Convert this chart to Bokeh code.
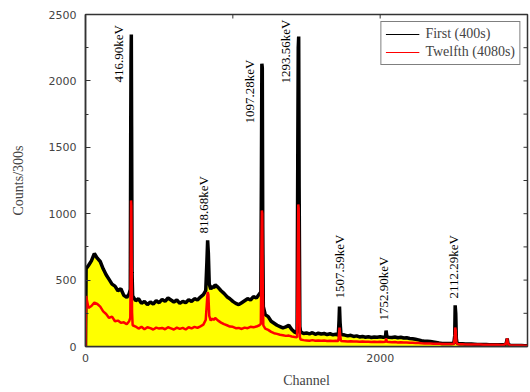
import math
from bokeh.plotting import figure
from bokeh.models import SingleIntervalTicker, FixedTicker, Legend, LegendItem
from bokeh.core.properties import value
from bokeh.embed import file_html
from bokeh.resources import INLINE

# ---- data ----
chan = [0, 4, 20, 40, 60, 80, 100, 120, 140, 160,
        180, 200, 220, 240, 260, 280, 296, 304, 307, 309,
        311, 313, 316, 320, 340, 360, 380, 400, 420, 440,
        460, 480, 500, 520, 540, 560, 580, 600, 620, 640,
        660, 680, 700, 720, 740, 760, 780, 800, 816, 824,
        829, 834, 840, 850, 860, 870, 880, 900, 920, 940,
        960, 980, 1000, 1020, 1040, 1060, 1080, 1100, 1120, 1140,
        1160, 1180, 1190, 1194, 1197, 1200, 1203, 1207, 1220, 1240,
        1260, 1280, 1300, 1320, 1340, 1360, 1380, 1400, 1420, 1436,
        1441, 1444, 1447, 1450, 1455, 1460, 1480, 1500, 1520, 1540,
        1560, 1580, 1600, 1620, 1640, 1660, 1680, 1700, 1716, 1721,
        1724, 1728, 1734, 1760, 1780, 1800, 1820, 1840, 1860, 1880,
        1900, 1920, 1940, 1960, 1980, 2000, 2020, 2036, 2040, 2046,
        2060, 2080, 2100, 2120, 2140, 2160, 2180, 2200, 2220, 2240,
        2260, 2280, 2300, 2320, 2340, 2360, 2380, 2400, 2420, 2440,
        2460, 2480, 2500, 2506, 2509, 2513, 2517, 2522, 2540, 2560,
        2580, 2600, 2620, 2640, 2660, 2680, 2700, 2720, 2740, 2760,
        2780, 2800, 2820, 2840, 2855, 2862, 2868, 2880, 2900, 2920,
        2940, 2960, 2980, 3000]

first = [0, 585, 610, 645, 700, 665, 640, 585, 540, 505,
         470, 455, 420, 435, 385, 370, 395, 430, 1650, 2176,
         2350, 1657, 560, 380, 345, 360, 325, 340, 315, 335,
         320, 345, 330, 355, 340, 365, 350, 335, 350, 325,
         340, 330, 352, 340, 360, 350, 372, 390, 420, 640,
         800, 700, 470, 430, 455, 440, 465, 445, 420, 400,
         375, 360, 340, 325, 315, 330, 345, 360, 350, 375,
         365, 395, 410, 1300, 2130, 2100, 900, 300, 240, 225,
         190, 175, 160, 150, 140, 148, 160, 128, 108, 100,
         1500, 2250, 2334, 1200, 150, 110, 98, 102, 95, 104,
         92, 100, 94, 98, 90, 96, 88, 92, 86, 200,
         300, 180, 90, 86, 80, 84, 76, 80, 72, 76,
         70, 74, 68, 72, 70, 74, 70, 72, 120, 72,
         70, 68, 72, 66, 70, 64, 66, 60, 58, 54,
         50, 44, 40, 40, 38, 34, 30, 26, 23, 22,
         22, 22, 24, 80, 310, 250, 60, 24, 20, 20,
         19, 18, 18, 17, 16, 16, 15, 15, 14, 14,
         14, 13, 13, 13, 20, 60, 20, 10, 8, 8,
         7, 7, 6, 6]

twelfth = [0, 380, 290, 305, 330, 320, 300, 265, 245, 215,
           225, 190, 195, 178, 182, 168, 190, 215, 600, 1100,
           1060, 700, 260, 160, 150, 135, 148, 130, 145, 138,
           128, 142, 135, 140, 130, 145, 137, 128, 142, 133,
           140, 128, 145, 137, 148, 140, 152, 165, 200, 330,
           410, 390, 230, 195, 210, 200, 215, 195, 180, 168,
           160, 150, 148, 138, 140, 132, 142, 138, 148, 145,
           150, 160, 170, 700, 1024, 1000, 480, 160, 135, 125,
           110, 100, 95, 88, 85, 80, 82, 75, 72, 70,
           700, 1070, 1040, 600, 70, 52, 48, 46, 44, 48,
           43, 46, 44, 45, 42, 44, 41, 43, 42, 100,
           143, 90, 42, 40, 38, 40, 37, 38, 36, 37,
           35, 36, 34, 35, 34, 36, 34, 35, 60, 35,
           33, 32, 33, 31, 32, 30, 30, 28, 28, 27,
           26, 24, 23, 22, 22, 21, 20, 20, 19, 19,
           18, 18, 19, 60, 143, 120, 40, 18, 17, 17,
           16, 16, 16, 15, 15, 15, 14, 14, 14, 13,
           13, 13, 12, 13, 20, 60, 20, 10, 8, 8,
           7, 7, 6, 6]

assert len(chan) == len(first) == len(twelfth)

peak_labels = ["416.90keV", "818.68keV", "1097.28keV", "1293.56keV",
               "1507.59keV", "1752.90keV", "2112.29keV"]
peak_label_x = [224, 801, 1113, 1357, 1724, 2023, 2498]
peak_label_y = [1988, 851, 1680, 1980, 361, 196, 361]

x_ticks = [0, 1000, 2000, 3000]
x_tick_labels = {1000: "", 3000: ""}
top_ticks = [1000, 2000]
right_ticks = [250, 500, 750, 1000, 1250, 1500, 1750, 2000, 2250]
x_max = 3000
y_max = 2500

SERIF = "Liberation Serif"
SANS = "DejaVu Sans"
AX = "#333333"

p = figure(width=530, height=392, x_range=(0, x_max), y_range=(0, y_max),
           output_backend="svg", toolbar_location=None,
           min_border_left=85, min_border_right=3, min_border_top=14,
           min_border_bottom=46)
p.grid.visible = False
p.outline_line_color = AX
p.outline_line_width = 1.5
p.background_fill_color = "white"
p.border_fill_color = "white"

p.varea(x=chan, y1=0, y2=first, fill_color="#FFFF00", fill_alpha=1.0)
p.line(chan, first, line_color="black", line_width=3.5)
p.line(chan, twelfth, line_color="#FF0000", line_width=2.5)

p.text(x=peak_label_x, y=peak_label_y, text=peak_labels, angle=math.pi / 2,
       text_align="left", text_baseline="middle",
       text_font=value(SERIF), text_font_size="13px", text_color="black")

# inward ticks on the top and right frame edges
p.ray(x=top_ticks, y=y_max, length=4, length_units="screen",
      angle=-math.pi / 2, line_color=AX, line_width=1)
p.ray(x=x_max, y=right_ticks, length=4, length_units="screen",
      angle=math.pi, line_color=AX, line_width=1)

# axes
yax = p.yaxis[0]
yax.ticker = SingleIntervalTicker(interval=500, num_minor_ticks=2)
yax.axis_label = "Counts/300s"
yax.axis_label_text_font = SERIF
yax.axis_label_text_font_style = "normal"
yax.axis_label_text_font_size = "14px"
yax.axis_label_standoff = 20
yax.major_label_text_font = SANS
yax.major_label_text_font_size = "11px"
yax.major_label_standoff = 9
yax.major_tick_in = 5
yax.major_tick_out = 0
yax.minor_tick_in = 3
yax.minor_tick_out = 0
yax.axis_line_color = AX
yax.axis_line_width = 1.5
yax.major_tick_line_color = AX
yax.minor_tick_line_color = AX

xax = p.xaxis[0]
xax.ticker = FixedTicker(ticks=x_ticks)
xax.major_label_overrides = x_tick_labels
xax.axis_label = "Channel"
xax.axis_label_text_font = SERIF
xax.axis_label_text_font_style = "normal"
xax.axis_label_text_font_size = "14px"
xax.axis_label_standoff = 8
xax.major_label_text_font = SANS
xax.major_label_text_font_size = "11px"
xax.major_label_standoff = 7
xax.major_tick_in = 0
xax.major_tick_out = 0
xax.minor_tick_line_color = None
xax.axis_line_color = AX
xax.axis_line_width = 1.5

# legend with thin sample lines (single-point proxies draw nothing on the plot)
leg_first = p.line(chan[:1], first[:1], line_color="black", line_width=1)
leg_twelfth = p.line(chan[:1], twelfth[:1], line_color="#FF0000", line_width=1)
legend = Legend(items=[LegendItem(label="First (400s)", renderers=[leg_first]),
                       LegendItem(label="Twelfth (4080s)", renderers=[leg_twelfth])],
                location="top_right", margin=7, padding=4, spacing=2,
                glyph_width=34, glyph_height=16, label_height=16,
                label_standoff=6, border_line_color="black", border_line_width=1,
                background_fill_alpha=1.0, label_text_font=SERIF,
                label_text_font_size="14px")
p.add_layout(legend, "center")

open("out.html", "w").write(file_html(p, INLINE))
